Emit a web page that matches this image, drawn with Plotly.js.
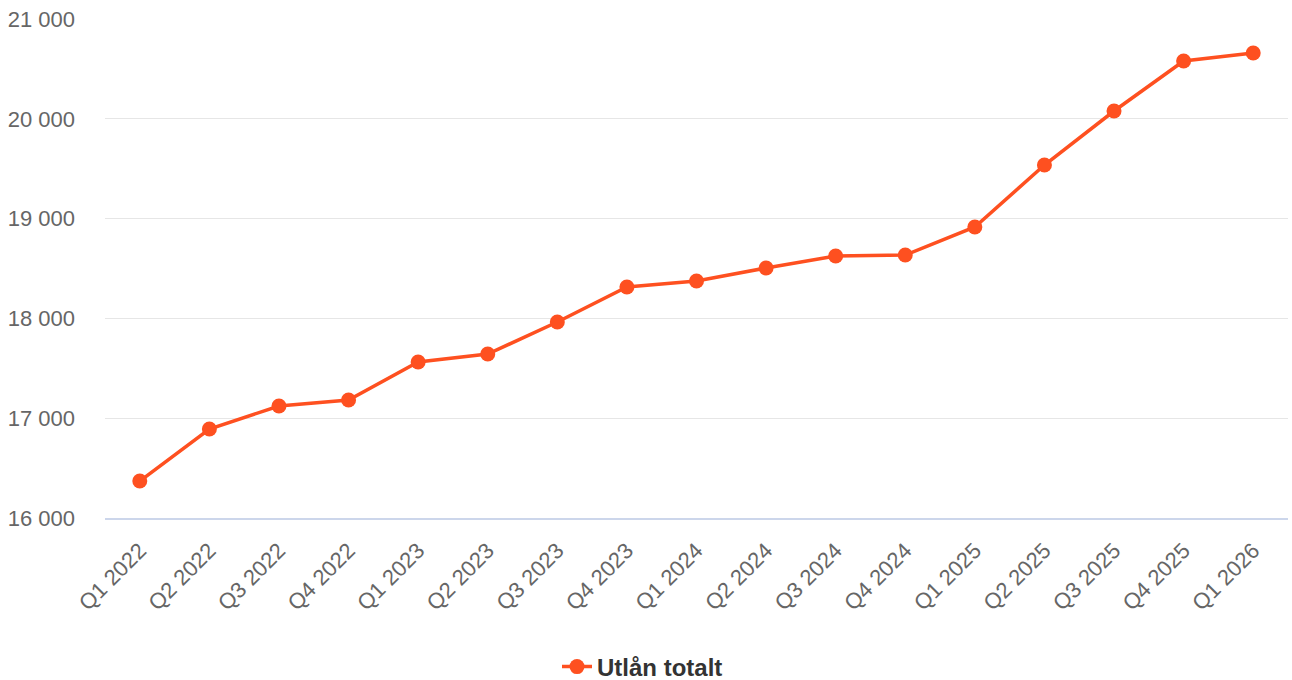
<!DOCTYPE html>
<html>
<head>
<meta charset="utf-8">
<script src="https://cdn.plot.ly/plotly-3.0.1.min.js"></script>
<style>html,body{margin:0;padding:0;background:#fff;}#chart{width:1292px;height:680px;}</style>
</head>
<body>
<div id="chart"></div>
<script>
const categories = ["Q1 2022","Q2 2022","Q3 2022","Q4 2022","Q1 2023","Q2 2023","Q3 2023","Q4 2023","Q1 2024","Q2 2024","Q3 2024","Q4 2024","Q1 2025","Q2 2025","Q3 2025","Q4 2025","Q1 2026"];
const utlanTotalt = [16370,16892,17122,17182,17563,17643,17964,18315,18375,18505,18625,18635,18916,19537,20078,20579,20659];
const seriesName = "Utlån totalt";
const yTicks = [16000,17000,18000,19000,20000,21000];
const yTickLabels = ["16 000","17 000","18 000","19 000","20 000","21 000"];

const trace = {
  x: categories,
  y: utlanTotalt,
  name: seriesName,
  type: 'scatter',
  mode: 'lines+markers',
  line: {color: '#fe5020', width: 3.5},
  marker: {color: '#fe5020', size: 15},
  showlegend: true,
  hoverinfo: 'none'
};

const layout = {
  width: 1292,
  height: 680,
  margin: {l: 105, r: 4, t: 19, b: 162},
  paper_bgcolor: '#fff',
  plot_bgcolor: '#fff',
  font: {family: 'Liberation Sans, Arial, sans-serif', color: '#666666', size: 22},
  showlegend: true,
  hovermode: false,
  xaxis: {
    type: 'category',
    range: [-0.5, 16.5],
    tickangle: -45,
    tickfont: {size: 22, color: '#666666'},
    showgrid: false,
    showline: true,
    linecolor: '#ccd6eb',
    linewidth: 2,
    ticks: '',
    zeroline: false,
    automargin: false,
    ticklabelstandoff: 9,
    fixedrange: true
  },
  yaxis: {
    range: [16000, 21000],
    tickvals: yTicks,
    ticktext: yTickLabels,
    tickfont: {size: 22, color: '#666666'},
    gridcolor: '#e6e6e6',
    gridwidth: 1,
    zeroline: false,
    showline: false,
    ticks: '',
    automargin: false,
    ticklabelstandoff: 29,
    fixedrange: true
  },
  legend: {
    orientation: 'h',
    xref: 'container',
    yref: 'container',
    x: 557 / 1292,
    xanchor: 'left',
    y: 13 / 680,
    yanchor: 'middle',
    font: {size: 24, color: '#333333', family: 'Liberation Sans, Arial, sans-serif', weight: 'bold'},
    itemwidth: 30
  }
};

Plotly.newPlot('chart', [trace], layout, {displayModeBar: false, staticPlot: true});
</script>
</body>
</html>
